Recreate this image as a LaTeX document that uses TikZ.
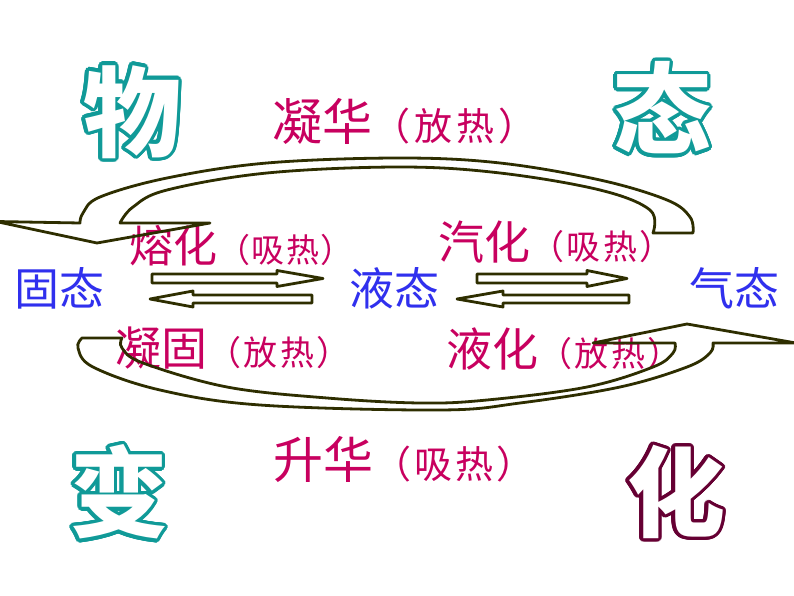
\documentclass[tikz,border=0pt]{standalone}
\usepackage{fontspec}
\usetikzlibrary{calc}
\newfontfamily\cjk{Noto Sans CJK SC}
\definecolor{lincol}{HTML}{2E2E00}
\definecolor{magcol}{HTML}{C8005F}
\definecolor{blucol}{HTML}{3030EE}
\definecolor{tealcol}{HTML}{109A98}
\definecolor{maroon}{HTML}{660033}
\tikzset{
  lab/.style={inner sep=0pt, anchor=west, text=magcol, font=\cjk},
  stt/.style={inner sep=0pt, anchor=west, text=blucol, font=\cjk\fontsize{45}{45}\selectfont},
  blk/.style={draw=lincol, line width=2.8pt, line join=round},
  bigc/.style={inner sep=0pt, font=\cjk\bfseries\fontsize{98}{98}\selectfont},
}
\newcommand\bigoutline[5]{%
  \foreach \a in {0,15,...,345}{\node[bigc, text=#4] (#1-\a) at ($(#2,#3)+(\a:3.4)$) {#5};}
  \node[bigc, text=white] (#1) at (#2,#3) {#5};
}
% parenthetical with a little extra spacing
\newcommand\paren[4]{{\fontsize{#1}{#1}\selectfont （\kern#2 #3\kern#2 #4\kern#2 ）}}
\begin{document}
\begin{tikzpicture}[x=1pt,y=-1pt]
\useasboundingbox (0,0) rectangle (794,596);
\fill[white] (0,0) rectangle (794,596);

% big outlined characters
\bigoutline{wu}{132}{112}{tealcol}{物}
\bigoutline{tai}{662}{108}{tealcol}{态}
\bigoutline{bian}{119}{492}{tealcol}{变}
\bigoutline{hua}{676}{492}{maroon}{化}

% state labels
\node[stt] (solid) at (14,288) {固态};
\node[stt] (liquid) at (349,288) {液态};
\node[stt] (gas) at (689,288) {气态};

% process labels
\node[lab] (ninghua) at (272,121) {\fontsize{50}{50}\selectfont 凝华\paren{38}{4pt}{放}{热}};
\node[lab] (ronghua) at (129,246) {\fontsize{44}{44}\selectfont 熔化\paren{33}{1.5pt}{吸}{热}};
\node[lab] (qihua) at (438,242) {\fontsize{46}{46}\selectfont 汽化\paren{34}{2.5pt}{吸}{热}};
\node[lab] (ninggu) at (115,348) {\fontsize{46}{46}\selectfont 凝固\paren{34}{2.5pt}{放}{热}};
\node[lab] (yehua) at (446,349) {\fontsize{46}{46}\selectfont 液化\paren{34}{2.5pt}{放}{热}};
\node[lab] (shenghua) at (273,459) {\fontsize{50}{50}\selectfont 升华\paren{38}{3pt}{吸}{热}};

% straight hollow arrows
\draw[blk] (152,274) -- (277,274) -- (277,270.5) -- (323,278.5) -- (277,286.5) -- (277,283) -- (152,283) -- cycle;
\draw[blk] (312,295) -- (193,295) -- (193,291) -- (150,299) -- (193,307) -- (193,303) -- (312,303) -- cycle;
\draw[blk] (477,274) -- (587,274) -- (587,270.5) -- (627,278.5) -- (587,286.5) -- (587,283) -- (477,283) -- cycle;
\draw[blk] (629,295) -- (503,295) -- (503,291) -- (457,299) -- (503,307) -- (503,303) -- (629,303) -- cycle;

% top curved arrow (gas -> solid)
\draw[blk] plot[smooth,tension=0.6] coordinates {(653,233) (650,210) (600,190) (500,173) (400,167) (267,173) (167,190) (133,207) (120,223)}
  -- (210,223) -- (97,243) -- (-4,221.5)
  -- plot[smooth,tension=0.6] coordinates {(80,223) (83,213) (100,197) (167,178) (267,163) (400,158) (500,163) (600,180) (667,200) (690,217) (693,233)}
  -- cycle;

% bottom curved arrow (solid -> gas)
\draw[blk] plot[smooth,tension=0.6] coordinates {(122,338) (122,348) (143,363) (227,387) (327,398) (420,403) (487,400) (587,387) (653,367) (673,353) (675,343)}
  -- (593,343) -- (687,324) -- (796,343)
  -- plot[smooth,tension=0.6] coordinates {(713,343) (710,353) (687,367) (620,387) (520,403) (440,410) (260,405) (160,390) (93,367) (78,348) (82,338)}
  -- cycle;
\end{tikzpicture}
\end{document}
